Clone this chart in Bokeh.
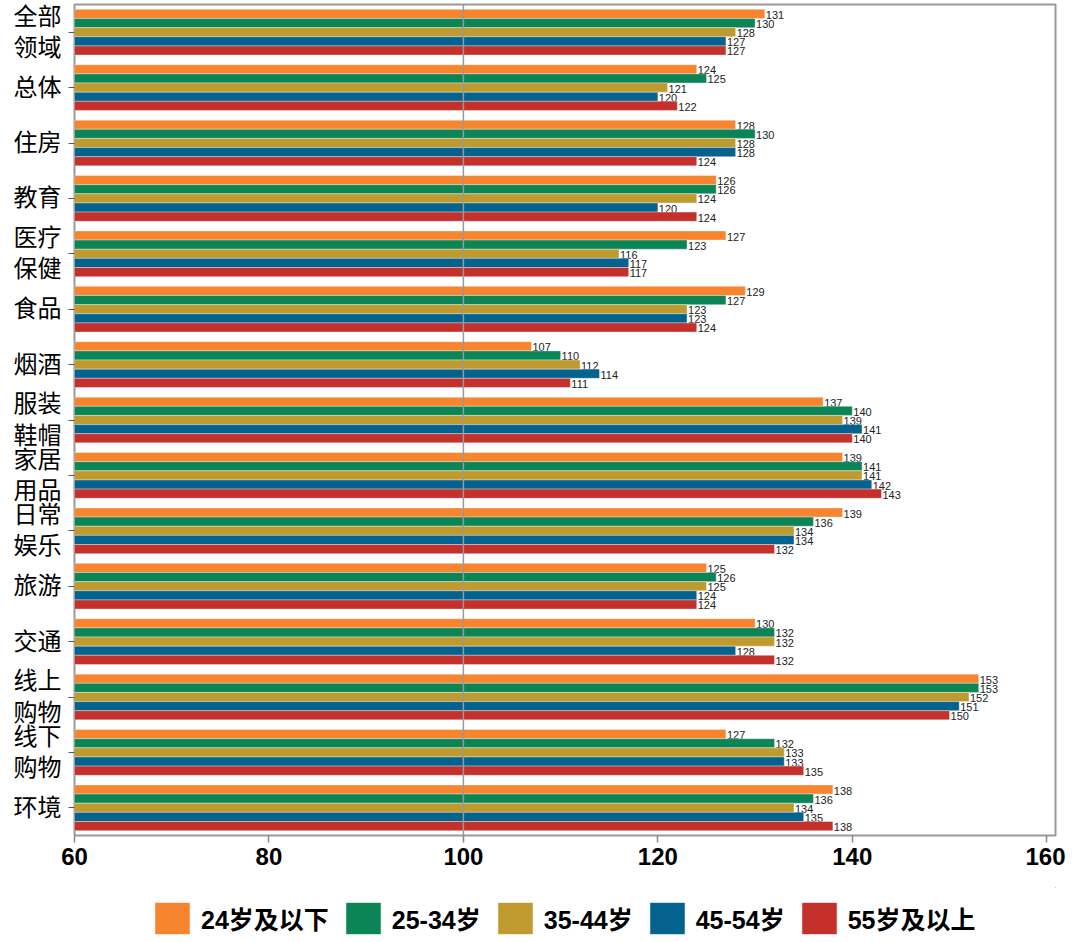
from bokeh.plotting import figure
from bokeh.layouts import column
from bokeh.models import ColumnDataSource, FactorRange, Range1d, Span, Legend, LegendItem, FixedTicker
from bokeh.transform import dodge
from bokeh.core.properties import value
from bokeh.embed import file_html
from bokeh.resources import INLINE

categories = ["全部\n领域", "总体", "住房", "教育", "医疗\n保健", "食品", "烟酒", "服装\n鞋帽",
              "家居\n用品", "日常\n娱乐", "旅游", "交通", "线上\n购物", "线下\n购物", "环境"]
series_names = ["24岁及以下", "25-34岁", "35-44岁", "45-54岁", "55岁及以上"]
age_24 = [131, 124, 128, 126, 127, 129, 107, 137, 139, 139, 125, 130, 153, 127, 138]
age_25_34 = [130, 125, 130, 126, 123, 127, 110, 140, 141, 136, 126, 132, 153, 132, 136]
age_35_44 = [128, 121, 128, 124, 116, 123, 112, 139, 141, 134, 125, 132, 152, 133, 134]
age_45_54 = [127, 120, 128, 120, 117, 123, 114, 141, 142, 134, 124, 128, 151, 133, 135]
age_55 = [127, 122, 124, 124, 117, 124, 111, 140, 143, 132, 124, 132, 150, 135, 138]
x_ticks = [60, 80, 100, 120, 140, 160]

colors = ["#F7852F", "#0B8456", "#BF9A2F", "#04628F", "#C4302C"]
series = [age_24, age_25_34, age_35_44, age_45_54, age_55]
offsets = [0.33, 0.165, 0.0, -0.165, -0.33]

p = figure(width=1065, height=887, output_backend="svg", toolbar_location=None,
           y_range=FactorRange(factors=categories[::-1], range_padding=0),
           x_range=Range1d(60, 160.9),
           min_border_left=74, min_border_right=10, min_border_top=4, min_border_bottom=52)

src = ColumnDataSource(dict(cat=categories, **{f"s{i}": s for i, s in enumerate(series)},
                            **{f"l{i}": [str(v) for v in s] for i, s in enumerate(series)}))

for i, (col, off) in enumerate(zip(colors, offsets)):
    p.hbar(y=dodge("cat", off, range=p.y_range), right=f"s{i}", left=60, height=0.165,
           source=src, fill_color=col, line_color="white", line_width=0.6, line_alpha=0.6)
    p.text(x=f"s{i}", y=dodge("cat", off, range=p.y_range), text=f"l{i}", source=src,
           text_font=value("Liberation Sans"), text_font_size="11px", text_color="#222222",
           text_baseline="middle", x_offset=1, y_offset=1)

p.add_layout(Span(location=100, dimension="height", line_color="#999999", line_width=1.5))

p.xgrid.visible = False
p.ygrid.visible = False
p.outline_line_color = "#999999"
p.outline_line_width = 2

p.xaxis.ticker = FixedTicker(ticks=x_ticks)
p.xaxis.axis_line_color = None
p.xaxis.major_tick_in = 0
p.xaxis.major_tick_out = 7
p.xaxis.major_tick_line_color = "#888888"
p.xaxis.major_tick_line_width = 1.5
p.xaxis.minor_tick_line_color = None
p.xaxis.major_label_text_font = "Liberation Sans"
p.xaxis.major_label_text_font_style = "bold"
p.xaxis.major_label_text_font_size = "24px"
p.xaxis.major_label_text_color = "#000000"
p.xaxis.major_label_standoff = 5

p.yaxis.axis_line_color = None
p.yaxis.major_tick_in = 0
p.yaxis.major_tick_out = 6
p.yaxis.major_tick_line_color = "#555555"
p.yaxis.major_label_text_font = "Liberation Serif, 'Noto Sans CJK SC'"
p.yaxis.major_label_text_font_size = "24px"
p.yaxis.major_label_text_color = "#000000"
p.yaxis.major_label_standoff = 7

# legend strip (its swatch renderers sit outside the strip's visible ranges)
lg = figure(width=1065, height=51, output_backend="svg", toolbar_location=None,
            x_range=Range1d(0, 1), y_range=Range1d(0, 1),
            x_axis_location=None, y_axis_location=None,
            min_border_left=0, min_border_right=0, min_border_top=0, min_border_bottom=0)
lg.grid.visible = False
lg.outline_line_color = None
items = []
for i, (name, col) in enumerate(zip(series_names, colors)):
    r = lg.hbar(y=f"s{i}", right=f"s{i}", left=f"s{i}", height=1, source=src,
                fill_color=col, line_color="white", line_alpha=0.6)
    items.append(LegendItem(label=name, renderers=[r]))
legend = Legend(items=items, orientation="horizontal", location=(76, 0),
                glyph_width=44, glyph_height=40, spacing=12, label_standoff=7,
                label_text_font="Liberation Sans, 'Noto Sans CJK SC'", label_text_font_style="bold",
                label_text_font_size="25px", label_text_color="#000000",
                border_line_color=None, background_fill_alpha=0, padding=0, margin=0)
lg.add_layout(legend, "center")

layout = column(p, lg, spacing=0)
open("out.html", "w").write(file_html(layout, INLINE))
